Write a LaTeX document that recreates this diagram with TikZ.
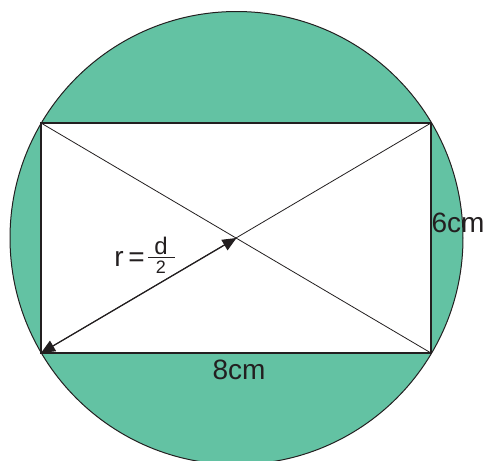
\documentclass[tikz,border=0pt]{standalone}
\usepackage{fontspec}
\setmainfont{Liberation Sans}
\usetikzlibrary{arrows.meta}
\definecolor{seg}{RGB}{99,194,163}
\definecolor{ink}{RGB}{35,31,32}
\begin{document}
\begin{tikzpicture}[x=1pt,y=-1pt,
  thinline/.style={draw=ink,line width=0.8pt},
  edge/.style={draw=ink,line width=1.4pt},
  lbl/.style={inner sep=0pt,text=ink,font=\fontsize{28}{30}\selectfont}]
\useasboundingbox (0,0) rectangle (488,461);
\coordinate (O) at (236.5,238);
\coordinate (A) at (41,123);
\coordinate (B) at (431,123);
\coordinate (C) at (431,353);
\coordinate (D) at (41,353);
\fill[seg] (O) circle[radius=226.5];
\draw[ink,line width=1pt] (O) circle[radius=226.5];
\fill[white] (A) rectangle (C);
\draw[thinline] (A) -- (C);
\draw[thinline] (B) -- (D);
\draw[edge] (A) -- (B) -- (C) -- (D) -- cycle;
\draw[ink,line width=1.2pt,{Triangle[length=14pt,width=12pt]}-{Triangle[length=14pt,width=12pt]}] (D) -- (O);
\node[lbl] (w) at (239,370) {8cm};
\node[lbl] (h) at (458,223) {6cm};
\node[lbl,anchor=east] (r) at (145,259) {r\,=};
\node[inner sep=0pt,text=ink,font=\fontsize{24}{26}\selectfont,anchor=south] (num) at (161,255) {d};
\node[inner sep=0pt,text=ink,font=\fontsize{18}{20}\selectfont,anchor=north] (den) at (161,261) {2};
\draw[ink,line width=0.9pt] (148,257.5) -- (175,257.5);
\end{tikzpicture}
\end{document}
